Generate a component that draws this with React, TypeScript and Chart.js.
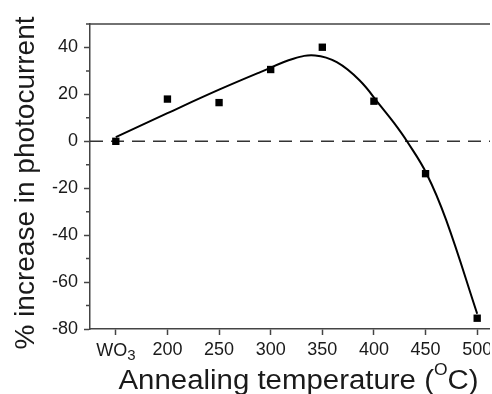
import React, { useEffect, useRef } from "react";
import { Chart, registerables } from "chart.js";

Chart.register(...registerables);

// ---- data ----
const categories = ["WO3", "200", "250", "300", "350", "400", "450", "500"];
const tempPositions = [150, 200, 250, 300, 350, 400, 450, 500]; // WO3 placed at 150
const photocurrentIncrease = [0, 18, 16.5, 30.6, 40.1, 17.1, -13.8, -75.4];
const fitTemps = [150, 200, 250, 290, 322, 343, 364, 386, 406, 420, 432, 451, 470, 500];
const fitValues = [1.8, 12, 22, 29.5, 35.2, 36.6, 33.7, 26, 15.3, 7.5, 0, -13.8, -33.6, -73.5];
const yMajorTicks = [-80, -60, -40, -20, 0, 20, 40];
const yMinorTicks = [-70, -50, -30, -10, 10, 30, 50];
const referenceLine = [0, 0];

const FONT = '"Liberation Sans", Arial, sans-serif';
const AXIS = "#444";
const TEXT = "#1a1a1a";

const overlay = {
  id: "overlay",
  afterDraw(chart: any) {
    const ctx = chart.ctx as CanvasRenderingContext2D;
    const { left, top, right } = chart.chartArea;
    const xs = chart.scales.x;
    const ys = chart.scales.y;
    ctx.save();
    ctx.strokeStyle = AXIS;
    ctx.lineWidth = 1.5;
    ctx.beginPath();
    ctx.moveTo(left, top);
    ctx.lineTo(right, top);
    yMinorTicks.forEach((v) => {
      const py = ys.getPixelForValue(v);
      ctx.moveTo(left - 4, py);
      ctx.lineTo(left, py);
    });
    ctx.stroke();

    // WO3 tick label with subscript
    ctx.fillStyle = TEXT;
    ctx.textBaseline = "alphabetic";
    ctx.textAlign = "left";
    const cx = xs.getPixelForValue(tempPositions[0]);
    ctx.font = "18px " + FONT;
    const wWO = ctx.measureText("WO").width;
    ctx.font = "15px " + FONT;
    const w3 = ctx.measureText("3").width;
    const sx = cx - (wWO + w3) / 2;
    ctx.font = "18px " + FONT;
    ctx.fillText("WO", sx, 356);
    ctx.font = "15px " + FONT;
    ctx.fillText("3", sx + wWO, 360);

    // x title (slightly widened to match the reference's proportions)
    const p1 = "Annealing temperature (";
    const p2 = "O";
    const p3 = "C)";
    ctx.font = "27px " + FONT;
    const w1 = ctx.measureText(p1).width;
    const w3b = ctx.measureText(p3).width;
    ctx.font = "16px " + FONT;
    const w2 = ctx.measureText(p2).width;
    const total = w1 + w2 + w3b;
    const targetW = 360;
    const k = targetW / total;
    ctx.save();
    ctx.translate(298.5 - targetW / 2, 389);
    ctx.scale(k, 1);
    let tx = 0;
    ctx.font = "27px " + FONT;
    ctx.fillText(p1, tx, 0);
    tx += w1;
    ctx.font = "16px " + FONT;
    ctx.fillText(p2, tx, -14);
    tx += w2;
    ctx.font = "27px " + FONT;
    ctx.fillText(p3, tx, 0);
    ctx.restore();

    // y title
    ctx.translate(34, 183);
    ctx.rotate(-Math.PI / 2);
    ctx.textAlign = "center";
    ctx.font = "28px " + FONT;
    ctx.fillText("% increase in photocurrent", 0, 0);
    ctx.restore();
  },
};

export default function App() {
  const ref = useRef<HTMLCanvasElement>(null);
  useEffect(() => {
    if (!ref.current) return;
    const chart = new Chart(ref.current, {
      type: "scatter",
      data: {
        datasets: [
          {
            label: "data",
            data: tempPositions.map((x, i) => ({ x, y: photocurrentIncrease[i] })),
            pointStyle: "rect",
            pointRadius: 5.2,
            pointBorderWidth: 0,
            backgroundColor: "#000",
            borderColor: "#000",
            order: 0,
          },
          {
            label: "fit",
            data: fitTemps.map((x, i) => ({ x, y: fitValues[i] })),
            showLine: true,
            borderColor: "#000",
            borderWidth: 2,
            pointRadius: 0,
            tension: 0.4,
            order: 1,
          },
          {
            label: "zero",
            data: [
              { x: 125, y: referenceLine[0] },
              { x: 545, y: referenceLine[1] },
            ],
            showLine: true,
            borderColor: "#333",
            borderWidth: 1.5,
            borderDash: [13, 8],
            pointRadius: 0,
            order: 2,
          },
        ],
      },
      options: {
        animation: false,
        responsive: false,
        devicePixelRatio: 1,
        layout: { padding: { left: 0, top: 24, right: 37, bottom: 0 } },
        plugins: { legend: { display: false }, tooltip: { enabled: false } },
        scales: {
          x: {
            type: "linear",
            min: 125,
            max: 525,
            afterBuildTicks: (s: any) => {
              s.ticks = tempPositions.map((v) => ({ value: v }));
            },
            afterFit: (s: any) => {
              s.height = 65;
            },
            ticks: {
              autoSkip: false,
              maxRotation: 0,
              padding: 4,
              color: TEXT,
              font: { family: FONT, size: 18 },
              callback: (v: any) => {
                const i = tempPositions.indexOf(Number(v));
                return i <= 0 ? "" : categories[i];
              },
            },
            grid: {
              drawOnChartArea: false,
              drawTicks: true,
              tickLength: 6,
              tickColor: AXIS,
              tickWidth: 1.5,
            },
            border: { display: true, color: AXIS, width: 1.5 },
          },
          y: {
            type: "linear",
            min: -80,
            max: 50,
            afterBuildTicks: (s: any) => {
              s.ticks = yMajorTicks.map((v) => ({ value: v }));
            },
            afterFit: (s: any) => {
              s.width = 90;
            },
            ticks: {
              padding: 6,
              color: TEXT,
              font: { family: FONT, size: 18 },
            },
            grid: {
              drawOnChartArea: false,
              drawTicks: true,
              tickLength: 6,
              tickColor: AXIS,
              tickWidth: 1.5,
            },
            border: { display: true, color: AXIS, width: 1.5 },
          },
        },
      },
      plugins: [overlay],
    });
    return () => chart.destroy();
  }, []);
  return (
    <div
      style={{
        position: "absolute",
        left: 0,
        top: 0,
        width: 490,
        height: 394,
        overflow: "hidden",
        background: "#fff",
      }}
    >
      <canvas ref={ref} width={540} height={394} style={{ display: "block" }} />
    </div>
  );
}
